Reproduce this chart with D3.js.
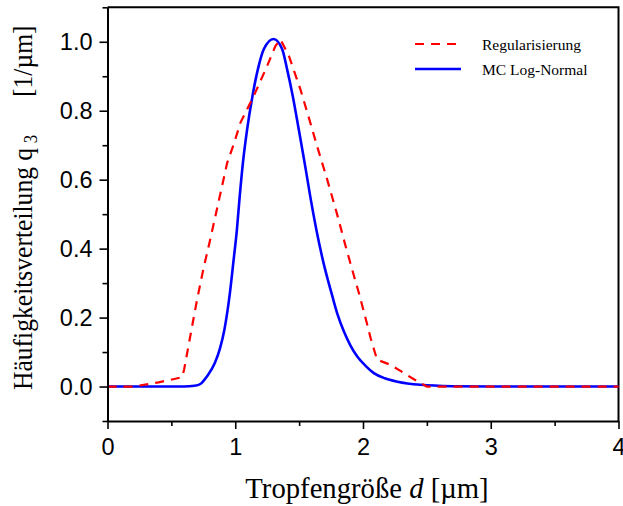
<!DOCTYPE html>
<html lang="de">
<head>
  <meta charset="UTF-8">
  <title>Häufigkeitsverteilung q3</title>
  <script src="https://cdnjs.cloudflare.com/ajax/libs/d3/7.8.5/d3.min.js"></script>
  <style>
      body { margin: 0; background: #fff; }
      svg { display: block; }
  </style>
</head>
<body>
<div id="chart"></div>
<script>
  // Data: droplet size d [µm] vs q3 [1/µm]
  const seriesNames = ["Regularisierung", "MC Log-Normal"];
  const seriesColors = ["#ff0000", "#0000ff"];

  const regularisierung = [
    [0, 0], [0.2, 0], [0.4, 0.012], [0.585, 0.027], [0.6, 0.05], [0.65, 0.15],
    [0.7, 0.25], [0.75, 0.34], [0.8, 0.42], [0.86, 0.52], [0.937, 0.649],
    [0.99, 0.705], [1.04, 0.765], [1.145, 0.843], [1.25, 0.93], [1.315, 0.988],
    [1.354, 1.007], [1.42, 0.959], [1.51, 0.862], [1.576, 0.78], [1.64, 0.698],
    [1.72, 0.6], [1.797, 0.5], [1.864, 0.407], [1.93, 0.32], [1.975, 0.262],
    [2.03, 0.184], [2.06, 0.14], [2.11, 0.078], [2.215, 0.063], [2.29, 0.046],
    [2.385, 0.024], [2.5, 0], [4, 0]
  ];

  const logNormal = [
    [0, 0], [0.3, 0], [0.6, 0], [0.68, 0.002], [0.73, 0.008], [0.78, 0.03],
    [0.84, 0.068], [0.88, 0.11], [0.915, 0.165], [0.955, 0.262], [0.985, 0.36],
    [1.013, 0.455], [1.035, 0.552], [1.06, 0.649], [1.093, 0.746], [1.135, 0.843],
    [1.177, 0.92], [1.224, 0.979], [1.3, 1.008], [1.367, 0.979], [1.406, 0.92],
    [1.45, 0.843], [1.497, 0.746], [1.545, 0.645], [1.59, 0.545], [1.635, 0.455],
    [1.69, 0.36], [1.76, 0.262], [1.8, 0.21], [1.85, 0.16], [1.9, 0.12],
    [1.955, 0.087], [2.02, 0.06], [2.085, 0.039], [2.17, 0.024], [2.27, 0.014],
    [2.45, 0.005], [2.7, 0.001], [3, 0], [4, 0]
  ];

  const xTicks = [0, 1, 2, 3, 4];
  const xMinorTicks = [0.5, 1.5, 2.5, 3.5];
  const yTicks = [0, 0.2, 0.4, 0.6, 0.8, 1.0];
  const yMinorTicks = [-0.1, 0.1, 0.3, 0.5, 0.7, 0.9, 1.1];

  const width = 623;
  const height = 506;
  const marginLeft = 107.5;
  const marginRight = 4.5;
  const marginTop = 7.3;
  const marginBottom = 85;

  const x = d3.scaleLinear([0, 4], [marginLeft, width - marginRight]);
  const y = d3.scaleLinear([-0.1, 1.1], [height - marginBottom, marginTop]);

  const svg = d3.select("#chart")
      .append("svg")
      .attr("width", width)
      .attr("height", height)
      .attr("viewBox", [0, 0, width, height]);

  // frame: top and right
  svg.append("path")
      .attr("fill", "none")
      .attr("stroke", "#000")
      .attr("stroke-width", 2)
      .attr("d", `M${x(0)},${y(1.1)}H${x(4)}V${y(-0.1)}`);

  // curves
  const line = d3.line().x(d => x(d[0])).y(d => y(d[1]));

  svg.append("path")
      .datum(logNormal)
      .attr("fill", "none")
      .attr("stroke", seriesColors[1])
      .attr("stroke-width", 2.6)
      .attr("d", line.curve(d3.curveMonotoneX));

  svg.append("path")
      .datum(regularisierung)
      .attr("fill", "none")
      .attr("stroke", seriesColors[0])
      .attr("stroke-width", 2.2)
      .attr("stroke-dasharray", "9,7")
      .attr("d", line.curve(d3.curveLinear));

  // axes
  const tickFont = "23.5px 'Liberation Sans', Arial, sans-serif";

  const gx = svg.append("g")
      .attr("transform", `translate(0,${y(-0.1)})`)
      .call(d3.axisBottom(x).tickValues(xTicks).tickFormat(d3.format("d"))
          .tickSize(8).tickPadding(9).tickSizeOuter(0));
  svg.append("g")
      .attr("transform", `translate(0,${y(-0.1)})`)
      .call(d3.axisBottom(x).tickValues(xMinorTicks).tickFormat("")
          .tickSize(5).tickSizeOuter(0))
      .call(g => g.select(".domain").remove());

  const gy = svg.append("g")
      .attr("transform", `translate(${x(0)},0)`)
      .call(d3.axisLeft(y).tickValues(yTicks).tickFormat(d3.format(".1f"))
          .tickSize(8).tickPadding(7).tickSizeOuter(0));
  svg.append("g")
      .attr("transform", `translate(${x(0)},0)`)
      .call(d3.axisLeft(y).tickValues(yMinorTicks).tickFormat("")
          .tickSize(5).tickSizeOuter(0))
      .call(g => g.select(".domain").remove());

  svg.selectAll(".domain").attr("stroke-width", 2);
  svg.selectAll(".tick line").attr("stroke-width", 1.6);
  [gx, gy].forEach(g => g.selectAll("text").style("font", tickFont).attr("fill", "#000"));

  // axis titles
  const xTitle = svg.append("text")
      .attr("x", (x(0) + x(4)) / 2 + 4)
      .attr("y", 498)
      .attr("text-anchor", "middle")
      .style("font", "28.7px 'Liberation Serif', 'Times New Roman', serif")
      .text("Tropfengröße ");
  xTitle.append("tspan").attr("font-style", "italic").text("d");
  xTitle.append("tspan").text(" [µm]");

  // rotated title, slightly condensed along the text direction
  const squeeze = 0.93;
  const yTitle = svg.append("text")
      .attr("transform", `rotate(-90) scale(${squeeze},1)`)
      .attr("x", -390 / squeeze)
      .attr("y", 32)
      .style("font", "27.5px 'Liberation Serif', 'Times New Roman', serif")
      .text("Häufigkeitsverteilung q");
  yTitle.append("tspan")
      .attr("dx", 5)
      .attr("dy", 5)
      .attr("font-size", 18)
      .text("3");
  yTitle.append("tspan")
      .attr("x", -97 / squeeze)
      .attr("dy", -5)
      .attr("font-size", 27.5)
      .text("[1/µm]");

  // legend
  const legend = svg.append("g");
  seriesNames.forEach((name, i) => {
    const ly = 44 + i * 25;
    legend.append("line")
        .attr("x1", 415).attr("x2", 461)
        .attr("y1", ly).attr("y2", ly)
        .attr("stroke", seriesColors[i])
        .attr("stroke-width", i === 0 ? 2.2 : 2.6)
        .attr("stroke-dasharray", i === 0 ? "9,7" : null);
    legend.append("text")
        .attr("x", 482)
        .attr("y", ly + 5.5)
        .style("font", "15.5px 'Liberation Serif', 'Times New Roman', serif")
        .text(name);
  });
</script>
</body>
</html>
